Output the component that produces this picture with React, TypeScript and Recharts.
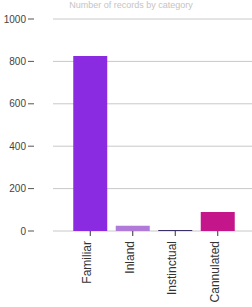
import React from "react";
import { BarChart, Bar, XAxis, YAxis, CartesianGrid, Cell } from "recharts";

const categories = ["Familiar", "Inland", "Instinctual", "Cannulated"];
const values = [825, 25, 5, 90];
const colors = ["#8a2be2", "#b07ad8", "#3a2f6b", "#c4168a"];
const yTicks = [0, 200, 400, 600, 800, 1000];

const data = categories.map((name, i) => ({ name, value: values[i] }));

const FONT = "'Liberation Sans', Arial, sans-serif";

export default function App() {
  return (
    <div style={{ position: "absolute", left: 0, top: 0, width: 252, height: 307, overflow: "hidden", background: "#fff" }}>
      <div
        style={{
          position: "absolute",
          top: 0,
          left: 0,
          width: 262,
          textAlign: "center",
          fontFamily: FONT,
          fontSize: 9,
          lineHeight: "10px",
          color: "#c4c4c4",
        }}
      >
        Number of records by category
      </div>
      <BarChart
        width={252}
        height={307}
        data={data}
        margin={{ top: 19, right: 0, bottom: 0, left: 0 }}
        barCategoryGap="10%"
      >
        <CartesianGrid vertical={false} stroke="#c8c8c8" />
        <XAxis
          dataKey="name"
          axisLine={false}
          tickLine={{ stroke: "#333" }}
          tickSize={5}
          interval={0}
          height={76}
          padding={{ left: 16, right: 13 }}
          tick={(props: any) => {
            const { x, y, payload } = props;
            const tx = x + 1;
            const ty = y + 3;
            return (
              <text
                x={tx}
                y={ty}
                transform={`rotate(-90, ${tx}, ${ty})`}
                textAnchor="end"
                fontFamily={FONT}
                fontSize={12}
                fill="#333"
              >
                {payload.value}
              </text>
            );
          }}
        />
        <YAxis
          domain={[0, 1000]}
          ticks={yTicks}
          axisLine={false}
          tickLine={false}
          width={53}
          tick={(props: any) => {
            const { x, y, payload } = props;
            return (
              <g>
                <line x1={x - 17} x2={x - 11} y1={y} y2={y} stroke="#555" />
                <text
                  x={x - 19}
                  y={y}
                  textAnchor="end"
                  dominantBaseline="central"
                  fontFamily={FONT}
                  fontSize={10}
                  fill="#444"
                >
                  {payload.value}
                </text>
              </g>
            );
          }}
        />
        <Bar dataKey="value" isAnimationActive={false}>
          {data.map((d, i) => (
            <Cell key={d.name} fill={colors[i]} />
          ))}
        </Bar>
      </BarChart>
    </div>
  );
}
